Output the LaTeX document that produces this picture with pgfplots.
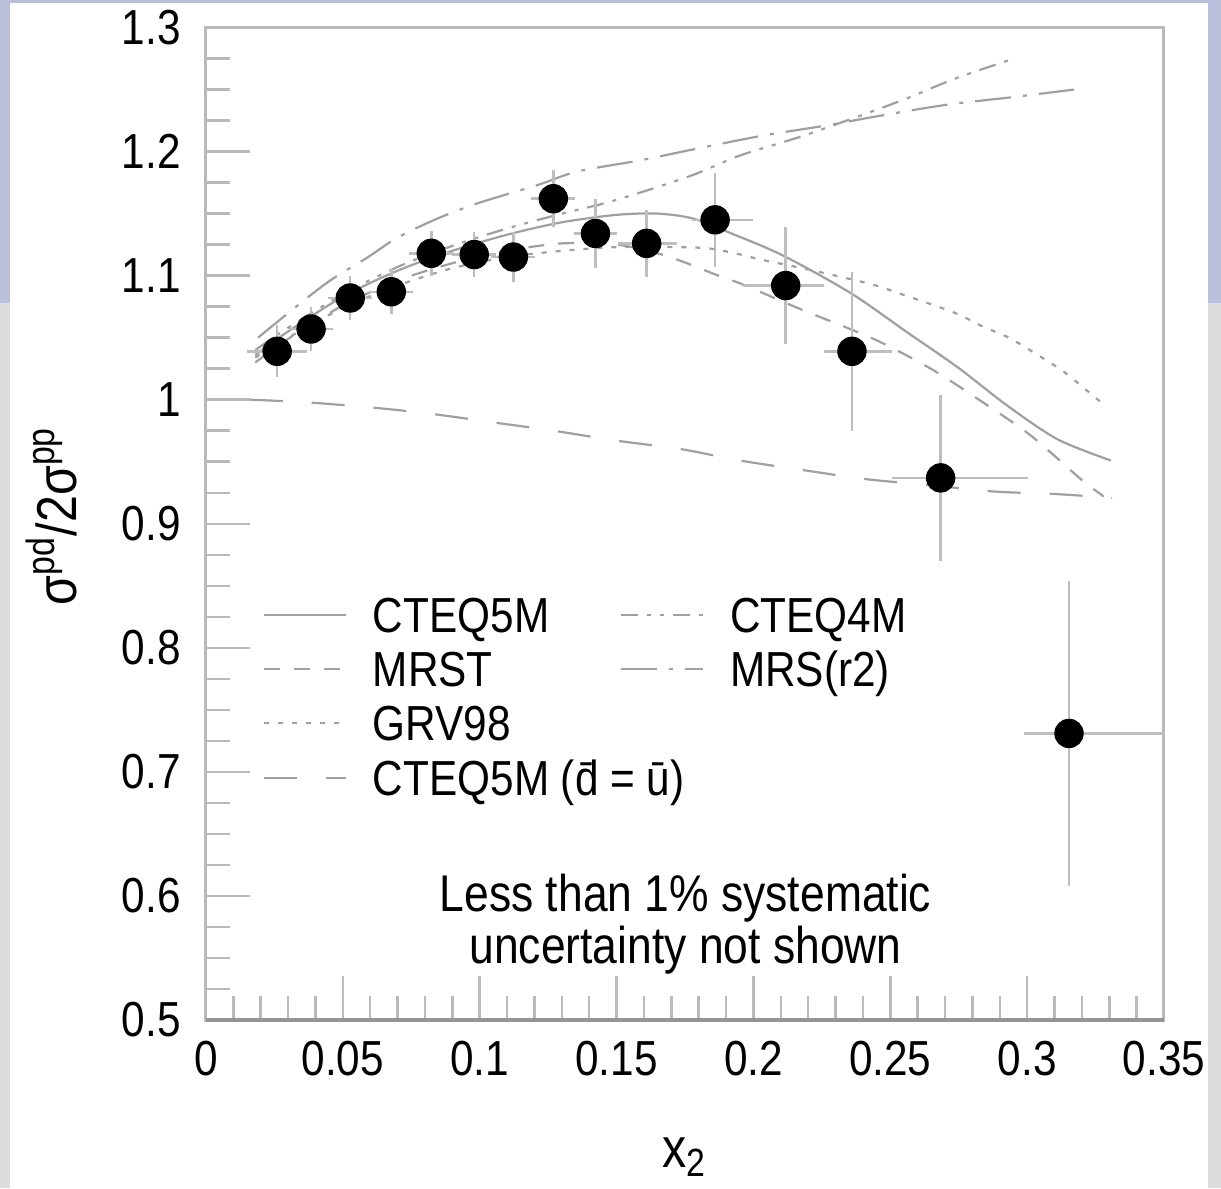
\documentclass[border=0pt]{standalone}
\usepackage{fontspec}
\setmainfont[FakeStretch=0.86]{Liberation Sans}
\usepackage{pgfplots}
\pgfplotsset{compat=1.18}
\usepackage{pgfplotstable}

\definecolor{slideblue}{RGB}{186,191,219}
\definecolor{slidegray}{RGB}{221,221,221}
\definecolor{framegray}{RGB}{186,186,186}
\definecolor{curvegray}{RGB}{160,160,160}
\definecolor{bargray}{RGB}{190,190,190}

\newcommand\labfont{\fontsize{14}{16}\selectfont}
\newcommand\axlabfont{\fontsize{16}{18}\selectfont}
\newcommand\annfont{\fontsize{14.7}{13.7}\selectfont}

% E866 points: x2, ratio, x err minus/plus, stat err
\pgfplotstableread{
x      y      exm     exp     ey
0.0260 1.039  0.0110  0.0110  0.021
0.0384 1.057  0.0080  0.0080  0.018
0.0527 1.082  0.0080  0.0080  0.018
0.0677 1.087  0.0080  0.0080  0.018
0.0823 1.118  0.0080  0.0080  0.018
0.0980 1.117  0.0080  0.0080  0.018
0.1123 1.115  0.0080  0.0080  0.020
0.1269 1.162  0.0080  0.0080  0.023
0.1423 1.134  0.0080  0.0080  0.028
0.1610 1.126  0.0106  0.0110  0.027
0.1860 1.145  0.0084  0.0139  0.038
0.2118 1.092  0.0157  0.0139  0.047
0.2360 1.039  0.0102  0.0146  0.064
0.2684 0.937  0.0176  0.0318  0.067
0.3153 0.731  0.0165  0.0400  0.123
}\datatab

\tikzset{
  c5m/.style={curvegray, line width=0.22mm, solid},
  c4m/.style={curvegray, line width=0.22mm, dash pattern=on 1.7mm off 0.9mm on 0.4mm off 0.9mm on 0.4mm off 0.9mm},
  mrst/.style={curvegray, line width=0.22mm, dash pattern=on 1.6mm off 1.4mm},
  mrsr/.style={curvegray, line width=0.22mm, dash pattern=on 3.6mm off 1.2mm on 0.4mm off 1.2mm},
  grv/.style={curvegray, line width=0.22mm, dash pattern=on 0.5mm off 0.9mm},
  dueq/.style={curvegray, line width=0.22mm, dash pattern=on 3.3mm off 2.9mm},
}

\begin{document}
\begin{tikzpicture}
\useasboundingbox (-2.06,-1.68) rectangle (10.15,10.20);
\fill[white] (-2.06,-1.68) rectangle (10.15,10.20);
\fill[slideblue] (-2.06,10.17) rectangle (10.15,10.20);
\fill[slideblue] (-2.06,7.17) rectangle (-1.96,10.20);
\fill[slidegray] (-2.06,-1.68) rectangle (-1.96,7.17);
\fill[slideblue] (10.02,7.17) rectangle (10.15,10.20);
\fill[slidegray] (10.02,-1.68) rectangle (10.15,7.17);
\begin{axis}[
    name=ax,
    at={(0,0)}, anchor=south west,
    scale only axis,
    width=9.58cm, height=9.925cm,
    xmin=0, xmax=0.35, ymin=0.5, ymax=1.3,
    xtick={0,0.05,0.1,0.15,0.2,0.25,0.3,0.35},
    xticklabels={0,0.05,0.1,0.15,0.2,0.25,0.3,0.35},
    ytick={0.5,0.6,0.7,0.8,0.9,1,1.1,1.2,1.3},
    yticklabels={0.5,0.6,0.7,0.8,0.9,1,1.1,1.2,1.3},
    minor x tick num=4, minor y tick num=3,
    tick pos=left, tick align=inside,
    major tick length=4.4mm, minor tick length=2.4mm,
    tick style={color=framegray, line width=0.25mm},
    axis line style={framegray, line width=0.3mm},
    ticklabel style={font=\labfont},
    yticklabel style={xshift=-1.3mm},
    xticklabel style={yshift=-0.9mm},
    xlabel={x\textsubscript{2}},
    ylabel={σ\textsuperscript{pd}/2σ\textsuperscript{pp}},
    label style={font=\axlabfont},
    xlabel style={at={(axis description cs:0.5,-0.138)}, anchor=center},
    ylabel style={at={(axis description cs:-0.1608,0.508)}, anchor=center},
    legend columns=2,
    legend cell align=left,
    legend image code/.code={\draw[#1] (0cm,0cm) -- (0.82cm,0cm); \path (1.08cm,0cm);},
    legend style={draw=none, fill=none, inner sep=0pt,
        at={(axis description cs:0.0585,0.4267)}, anchor=north west,
        row sep=1.93mm,
        nodes={inner sep=0pt, text height=3.5mm, text depth=0pt, font=\labfont}},
]
% CTEQ5M
\addplot[c5m, smooth, forget plot] coordinates {
 (0.018,1.036) (0.03,1.055) (0.05,1.083) (0.07,1.104) (0.09,1.120) (0.11,1.133)
 (0.13,1.143) (0.15,1.149) (0.165,1.150) (0.178,1.146) (0.192,1.134) (0.211,1.116)
 (0.2355,1.086) (0.2564,1.054) (0.2747,1.026) (0.2929,0.995) (0.3112,0.968) (0.3306,0.951)
};
% CTEQ4M
\addplot[c4m, smooth, forget plot] coordinates {
 (0.018,1.040) (0.03,1.058) (0.05,1.085) (0.07,1.107) (0.09,1.124) (0.11,1.138)
 (0.13,1.150) (0.145,1.158) (0.1587,1.167) (0.1777,1.181) (0.1953,1.197) (0.2172,1.212)
 (0.2366,1.227) (0.2556,1.2425) (0.2739,1.259) (0.2959,1.2755)
};
% MRST
\addplot[mrst, smooth, forget plot] coordinates {
 (0.018,1.030) (0.03,1.049) (0.05,1.076) (0.07,1.096) (0.09,1.110) (0.11,1.120)
 (0.13,1.126) (0.15,1.125) (0.165,1.118) (0.177,1.109) (0.186,1.101) (0.196,1.093)
 (0.2172,1.073) (0.2439,1.049) (0.2648,1.025) (0.2831,0.999) (0.3014,0.971) (0.3196,0.936) (0.328,0.922)
};
% MRS(r2)
\addplot[mrsr, smooth, forget plot] coordinates {
 (0.019,1.050) (0.0318,1.073) (0.0453,1.096) (0.0589,1.1145) (0.0702,1.131) (0.0856,1.147)
 (0.1002,1.159) (0.1211,1.173) (0.1357,1.184) (0.1587,1.193) (0.1807,1.203) (0.2037,1.213)
 (0.2264,1.221) (0.2491,1.230) (0.2714,1.238) (0.2951,1.244) (0.3171,1.250)
};
% GRV98
\addplot[grv, smooth, forget plot] coordinates {
 (0.018,1.034) (0.03,1.050) (0.05,1.074) (0.07,1.092) (0.09,1.106) (0.11,1.115)
 (0.13,1.120) (0.15,1.123) (0.17,1.123) (0.1836,1.122) (0.1953,1.117) (0.2026,1.113)
 (0.22,1.105) (0.2432,1.093) (0.2542,1.085) (0.2648,1.077) (0.2747,1.069) (0.2838,1.059)
 (0.2933,1.050) (0.3032,1.037) (0.3131,1.023) (0.3215,1.008) (0.328,0.996)
};
% CTEQ5M with dbar = ubar
\addplot[dueq, smooth, forget plot] coordinates {
 (0.016,1.000) (0.036,0.998) (0.059,0.994) (0.081,0.989) (0.104,0.982) (0.127,0.975)
 (0.150,0.967) (0.174,0.960) (0.195,0.951) (0.219,0.943) (0.241,0.936) (0.265,0.931)
 (0.288,0.926) (0.310,0.924) (0.331,0.921)
};
% data
\addplot[only marks, mark=*, mark size=1.4mm, black, forget plot,
    error bars/.cd, x dir=both, x explicit, y dir=both, y explicit,
    error mark=none, error bar style={bargray, line width=0.25mm}]
  table[x=x, y=y, x error minus=exm, x error plus=exp, y error=ey] {\datatab};

\addlegendimage{c5m}
\addlegendentry{\makebox[2.47cm][l]{CTEQ5M}}
\addlegendimage{c4m}
\addlegendentry{CTEQ4M}
\addlegendimage{mrst}
\addlegendentry{\makebox[2.47cm][l]{MRST}}
\addlegendimage{mrsr}
\addlegendentry{MRS(r2)}
\addlegendimage{grv}
\addlegendentry{\makebox[2.47cm][l]{GRV98}}
\addlegendimage{empty legend}
\addlegendentry{}
\addlegendimage{dueq}
\addlegendentry{\makebox[2.47cm][l]{CTEQ5M (\={d} = ū)}}

\node[align=center, font=\annfont] at (axis cs:0.1752,0.5774)
  {Less than 1\% systematic\\uncertainty not shown};
\end{axis}
\draw[black!42, line width=0.35mm] (ax.south west) -- (ax.south east);
\end{tikzpicture}
\end{document}
